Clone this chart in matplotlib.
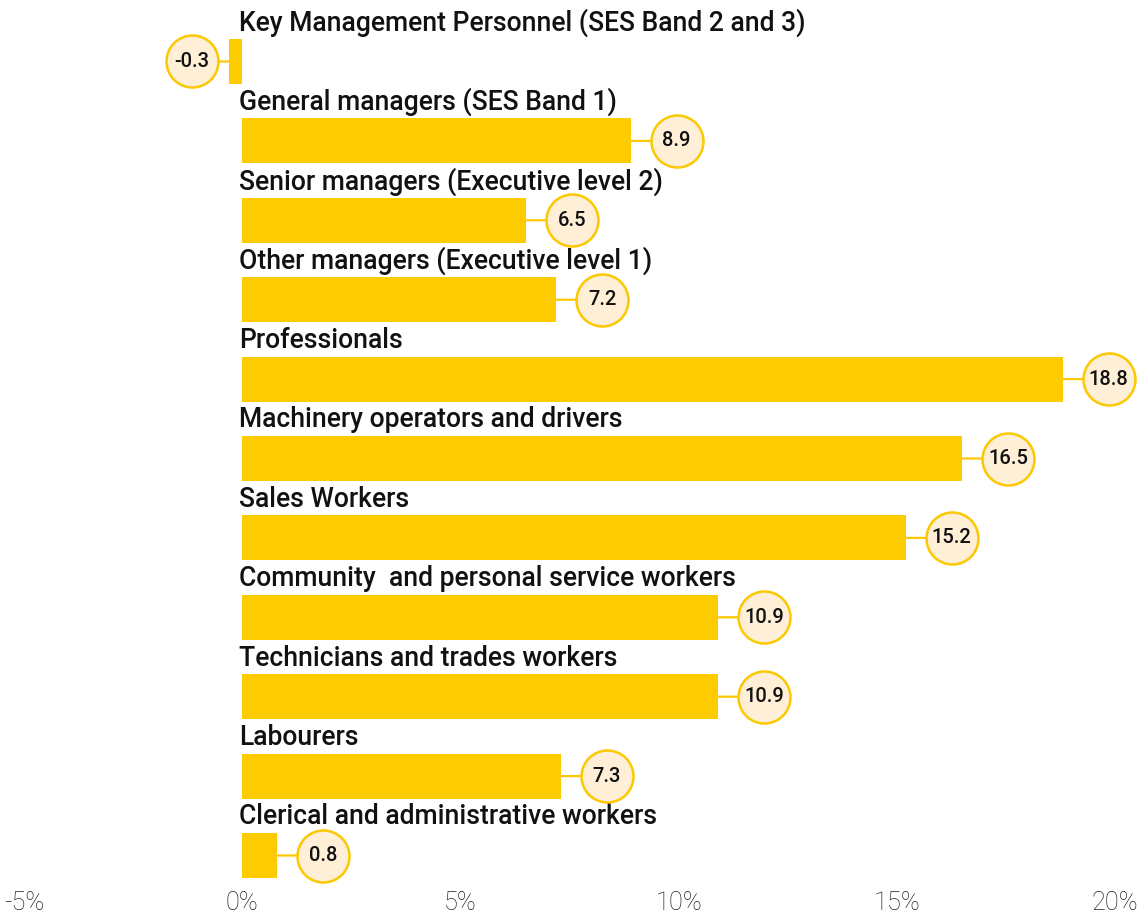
import matplotlib
matplotlib.use("Agg")
import matplotlib.pyplot as plt
from matplotlib.transforms import ScaledTranslation

categories = [
    "Key Management Personnel (SES Band 2 and 3)",
    "General managers (SES Band 1)",
    "Senior managers (Executive level 2)",
    "Other managers (Executive level 1)",
    "Professionals",
    "Machinery operators and drivers",
    "Sales Workers",
    "Community  and personal service workers",
    "Technicians and trades workers",
    "Labourers",
    "Clerical and administrative workers",
]
values = [-0.3, 8.9, 6.5, 7.2, 18.8, 16.5, 15.2, 10.9, 10.9, 7.3, 0.8]
xticks = [-5, 0, 5, 10, 15, 20]
xticklabels = ["-5%", "0%", "5%", "10%", "15%", "20%"]

BAR = "#FECB00"
FILL = "#FFEFD6"
EDGE = "#FCC800"

W, H = 1148, 913
dpi = 100
fig = plt.figure(figsize=(W / dpi, H / dpi), dpi=dpi)
left_px, right_px = 24, 1115
top_px, bot_px = 0, 880
ax = fig.add_axes([left_px / W, 1 - bot_px / H, (right_px - left_px) / W, (bot_px - top_px) / H])

pitch = 79.4
first_c = 61.5
y0 = -first_c / pitch
y1 = (bot_px - first_c) / pitch
ax.set_xlim(-5, 20)
ax.set_ylim(y1, y0)

ypos = list(range(len(categories)))
ax.barh(ypos, values, height=45 / pitch, color=BAR, left=0, zorder=2)

for i, (cat, v) in enumerate(zip(categories, values)):
    ax.text(-0.07, i - 0.5 + 1 / pitch, cat, ha="left", va="center", fontsize=19.1,
            family="Roboto", fontweight="medium", color="#111111", zorder=3)
    dx_px = 46 if v >= 0 else -37
    tr = ax.transData + ScaledTranslation(dx_px / dpi, 0, fig.dpi_scale_trans)
    ax.annotate("", xy=(v, i), xytext=(dx_px * 72 / dpi, 0), textcoords="offset points",
                arrowprops=dict(arrowstyle="-", color=EDGE, lw=1.6, shrinkA=0, shrinkB=0),
                zorder=1)
    ax.scatter([v], [i], s=(52 * 72 / dpi) ** 2, transform=tr, facecolor=FILL,
               edgecolor=EDGE, linewidths=1.8, zorder=4, clip_on=False)
    ax.text(v, i, f"{v:g}", transform=tr, ha="center", va="center", fontsize=14.5,
            family="Roboto", fontweight="medium", color="#111111", zorder=5)

ax.set_xticks(xticks)
ax.set_xticklabels(xticklabels, fontsize=18.3, family="Roboto", fontweight="light", color="#222222")
ax.tick_params(axis="x", length=0, pad=8)
ax.set_yticks([])
for s in ax.spines.values():
    s.set_visible(False)

fig.savefig("out.png", dpi=dpi)
